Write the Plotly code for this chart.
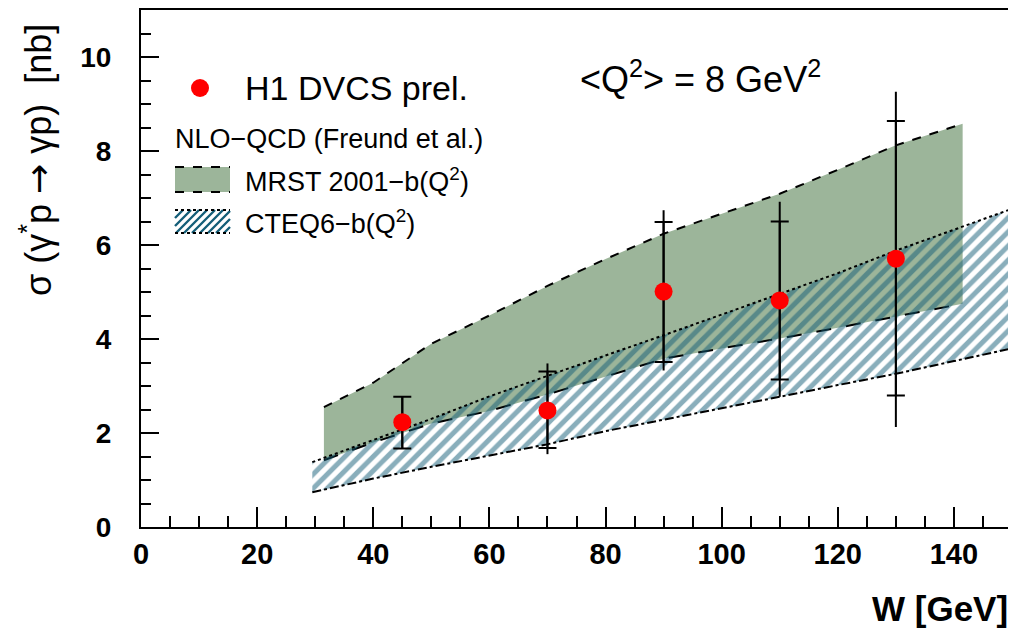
import plotly.graph_objects as go

# ---------------- data ----------------
W_data = [45, 70, 90, 110, 130]
sigma = [2.23, 2.48, 5.01, 4.82, 5.71]
stat_up = [0.54, 0.83, 1.48, 1.68, 2.93]
stat_dn = [0.56, 0.80, 1.50, 1.68, 2.91]
tot_up = [0.54, 1.00, 1.73, 2.10, 3.55]
tot_dn = [0.56, 0.93, 1.68, 2.05, 3.58]

W_mrst = [31.5, 40, 50, 60, 70, 80, 90, 100, 110, 120, 130, 141.5]
mrst_hi = [2.55, 3.07, 3.90, 4.50, 5.13, 5.70, 6.24, 6.67, 7.09, 7.60, 8.12, 8.58]
mrst_lo = [1.42, 1.80, 2.20, 2.47, 2.82, 3.20, 3.58, 3.80, 4.01, 4.24, 4.47, 4.75]

W_cteq = [29.5, 40, 50, 60, 70, 80, 90, 100, 110, 120, 130, 140, 150]
cteq_hi = [1.38, 1.85, 2.30, 2.78, 3.22, 3.65, 4.08, 4.52, 4.96, 5.40, 5.88, 6.33, 6.77]
cteq_lo = [0.74, 1.03, 1.28, 1.52, 1.76, 2.04, 2.28, 2.53, 2.77, 3.02, 3.26, 3.53, 3.80]

x_ticks = [0, 20, 40, 60, 80, 100, 120, 140]
y_ticks = [0, 2, 4, 6, 8, 10]

GREEN = "#9cb59a"
TEAL = "#145e78"
FONT = "Liberation Sans, Arial, Helvetica, sans-serif"

# the page body adds an 8 px offset; geometry below is in screenshot pixels
OFF = 8
PL, PR, PT, PB = 141, 1012, 10, 527          # plot area in screenshot pixels
WIDTH, HEIGHT = 1016 - OFF, 637 - OFF
L, T = PL - OFF, PT - OFF
R = WIDTH - (PR - OFF)
B = HEIGHT - (PB - OFF)
PW = PR - PL
PH = PB - PT


def px(x):
    return (x - PL) / PW


def py(y):
    return (PB - y) / PH


fig = go.Figure()

# MRST band (green)
fig.add_trace(go.Scatter(x=W_mrst, y=mrst_lo, mode="lines",
                         line=dict(color="black", width=2, dash="longdash"),
                         showlegend=False, hoverinfo="skip"))
fig.add_trace(go.Scatter(x=W_mrst, y=mrst_hi, mode="lines", fill="tonexty",
                         fillcolor=GREEN,
                         line=dict(color="black", width=2, dash="dash"),
                         showlegend=False, hoverinfo="skip"))

# CTEQ band (hatched)
fig.add_trace(go.Scatter(x=W_cteq, y=cteq_lo, mode="lines",
                         line=dict(color="black", width=2, dash="dashdot"),
                         showlegend=False, hoverinfo="skip"))
fig.add_trace(go.Scatter(x=W_cteq, y=cteq_hi, mode="lines", fill="tonexty",
                         fillcolor="rgba(0,0,0,0)",
                         fillpattern=dict(shape="/", fgcolor=TEAL,
                                          bgcolor="rgba(0,0,0,0)",
                                          size=10, solidity=0.5),
                         line=dict(color="black", width=2, dash="dot"),
                         showlegend=False, hoverinfo="skip"))

# total errors (no caps)
fig.add_trace(go.Scatter(x=W_data, y=sigma, mode="markers",
                         marker=dict(size=1, color="rgba(0,0,0,0)"),
                         error_y=dict(type="data", symmetric=False, array=tot_up,
                                      arrayminus=tot_dn, color="black",
                                      thickness=2, width=0),
                         showlegend=False, hoverinfo="skip"))
# statistical errors (with caps) + points
fig.add_trace(go.Scatter(x=W_data, y=sigma, mode="markers",
                         marker=dict(size=18, color="#ff0000"),
                         error_y=dict(type="data", symmetric=False, array=stat_up,
                                      arrayminus=stat_dn, color="black",
                                      thickness=2, width=9),
                         name="H1 DVCS prel.", showlegend=False))

# ---------------- legend (drawn by hand) ----------------
shapes = []
annotations = []

shapes.append(dict(type="circle", xref="paper", yref="paper",
                   xsizemode="pixel", ysizemode="pixel",
                   xanchor=px(200), yanchor=py(88),
                   x0=-9, x1=9, y0=-9, y1=9,
                   fillcolor="#ff0000", line=dict(width=0)))
annotations.append(dict(text="H1 DVCS prel.", x=px(243), y=py(88),
                        xref="paper", yref="paper", xanchor="left", yanchor="middle",
                        showarrow=False, font=dict(family=FONT, size=34, color="black")))
annotations.append(dict(text="NLO\u2212QCD (Freund et al.)", x=px(173), y=py(139),
                        xref="paper", yref="paper", xanchor="left", yanchor="middle",
                        showarrow=False, font=dict(family=FONT, size=27, color="black")))

# MRST swatch
sx0, sx1 = 175, 230
shapes.append(dict(type="rect", xref="paper", yref="paper",
                   x0=px(sx0), x1=px(sx1), y0=py(192), y1=py(167),
                   fillcolor=GREEN, line=dict(width=0)))
for yy in (167, 192):
    shapes.append(dict(type="line", xref="paper", yref="paper",
                       x0=px(sx0), x1=px(sx1), y0=py(yy), y1=py(yy),
                       line=dict(color="black", width=2, dash="dash")))
annotations.append(dict(text="MRST 2001\u2212b(Q<sup>2</sup>)", x=px(243), y=py(180),
                        xref="paper", yref="paper", xanchor="left", yanchor="middle",
                        showarrow=False, font=dict(family=FONT, size=27, color="black")))

# CTEQ swatch (hatch)
ht, hb = 210, 233
hh = hb - ht
path = ""
c = sx0 - hh
while c < sx1:
    xa, ya = c, hb
    xb, yb = c + hh, ht
    if xa < sx0:
        ya = hb - (sx0 - xa)
        xa = sx0
    if xb > sx1:
        yb = hb - (sx1 - c)
        xb = sx1
    path += f"M{px(xa)},{py(ya)} L{px(xb)},{py(yb)} "
    c += 8
shapes.append(dict(type="path", xref="paper", yref="paper", path=path,
                   line=dict(color=TEAL, width=2.4)))
for yy in (ht, hb):
    shapes.append(dict(type="line", xref="paper", yref="paper",
                       x0=px(sx0), x1=px(sx1), y0=py(yy), y1=py(yy),
                       line=dict(color="black", width=2, dash="dot")))
annotations.append(dict(text="CTEQ6\u2212b(Q<sup>2</sup>)", x=px(243), y=py(222),
                        xref="paper", yref="paper", xanchor="left", yanchor="middle",
                        showarrow=False, font=dict(family=FONT, size=27, color="black")))

# Q^2 label
annotations.append(dict(text="&lt;Q<sup>2</sup>&gt; = 8 GeV<sup>2</sup>", x=px(578), y=py(77),
                        xref="paper", yref="paper", xanchor="left", yanchor="middle",
                        showarrow=False, font=dict(family=FONT, size=36, color="black")))

# axis titles
annotations.append(dict(text="\u03c3 (\u03b3<sup>*</sup>p <span style=\"font-family:DejaVu Sans\">\u2192</span> \u03b3p)\u00a0\u00a0[nb]",
                        x=px(36), y=py(160), xref="paper", yref="paper",
                        xanchor="center", yanchor="middle", textangle=-90,
                        showarrow=False, font=dict(family=FONT, size=36, color="black")))
annotations.append(dict(text="W [GeV]", x=px(1010), y=py(608),
                        xref="paper", yref="paper", xanchor="right", yanchor="middle",
                        showarrow=False,
                        font=dict(family=FONT, size=35, color="black", weight="bold")))

fig.update_layout(
    width=WIDTH, height=HEIGHT,
    margin=dict(l=L, r=R, t=T, b=B, pad=0),
    plot_bgcolor="white", paper_bgcolor="white",
    showlegend=False,
    shapes=shapes, annotations=annotations,
    font=dict(family=FONT, color="black"),
)
fig.update_xaxes(range=[0, 150], tickvals=x_ticks, ticktext=[str(v) for v in x_ticks],
                 ticks="inside", ticklen=20, tickwidth=2, tickcolor="black",
                 minor=dict(dtick=5, tick0=0, ticks="inside", ticklen=11,
                            tickwidth=2, tickcolor="black", showgrid=False),
                 showline=True, linecolor="black", linewidth=2, mirror=True,
                 showgrid=False, zeroline=False, automargin=False,
                 tickfont=dict(family=FONT, size=29, color="black", weight="bold"),
                 ticklabelstandoff=0)
fig.update_yaxes(range=[0, 11], tickvals=y_ticks, ticktext=[str(v) for v in y_ticks],
                 ticks="inside", ticklen=18, tickwidth=2, tickcolor="black",
                 minor=dict(dtick=0.5, tick0=0, ticks="inside", ticklen=10,
                            tickwidth=2, tickcolor="black", showgrid=False),
                 showline=True, linecolor="black", linewidth=2, mirror=True,
                 showgrid=False, zeroline=False, automargin=False,
                 tickfont=dict(family=FONT, size=28, color="black", weight="bold"),
                 ticklabelstandoff=22)

fig.write_html("out.html")
